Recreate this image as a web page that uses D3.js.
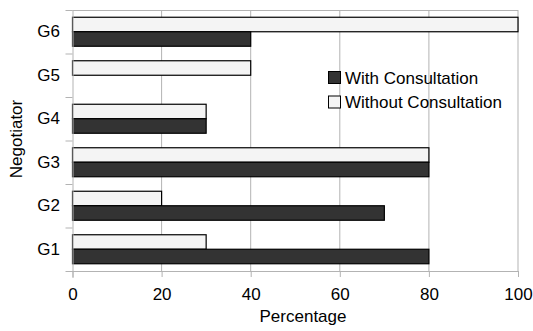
<!DOCTYPE html>
<html>
<head>
<meta charset="utf-8">
<script src="https://cdn.jsdelivr.net/npm/d3@7"></script>
<style>
  html, body { margin: 0; padding: 0; background: #fff; }
  svg { display: block; font-family: "Liberation Sans", Arial, sans-serif; }
</style>
</head>
<body>
<svg id="chart" width="533" height="331"></svg>
<script>
const categories = ["G1", "G2", "G3", "G4", "G5", "G6"];
const withConsultation = [80, 70, 80, 30, 0, 40];
const withoutConsultation = [30, 20, 80, 30, 40, 100];
const seriesNames = ["With Consultation", "Without Consultation"];
const xTicks = [0, 20, 40, 60, 80, 100];

(function () {
const FONT = "Liberation Sans, Arial, sans-serif";
const FS = 17;
const svg = d3.select("#chart");
const plotLeft = 72.5, plotTop = 10;
const plotRight = 518, plotBottom = 271;

const x = d3.scaleLinear().domain([0, 100]).range([plotLeft, plotRight]);
const y0 = d3.scaleBand().domain(categories.slice().reverse()).range([plotTop, plotBottom]).padding(0);
const y1 = d3.scaleBand().domain(["without", "with"]).range([0, y0.bandwidth()]).paddingInner(0).paddingOuter(0.5);

// gridlines
svg.append("g").selectAll("line").data(xTicks.filter(d => d > 0)).join("line")
  .attr("x1", d => x(d)).attr("x2", d => x(d))
  .attr("y1", plotTop).attr("y2", plotBottom)
  .attr("stroke", "#b3b3b3").attr("stroke-width", 1);
// top border
svg.append("line").attr("x1", plotLeft).attr("x2", plotRight)
  .attr("y1", plotTop + 0.5).attr("y2", plotTop + 0.5)
  .attr("stroke", "#b3b3b3");

const data = categories.map((c, i) => ({ c, with: withConsultation[i], without: withoutConsultation[i] }));

const groups = svg.append("g").selectAll("g").data(data).join("g")
  .attr("transform", d => `translate(0,${y0(d.c)})`);

groups.append("rect")
  .attr("x", x(0)).attr("y", y1("without"))
  .attr("width", d => x(d.without) - x(0)).attr("height", y1.bandwidth())
  .attr("fill", "#f4f4f4").attr("stroke", "#000").attr("stroke-width", 1.2);

groups.filter(d => d.with > 0).append("rect")
  .attr("x", x(0)).attr("y", y1("with"))
  .attr("width", d => x(d.with) - x(0)).attr("height", y1.bandwidth())
  .attr("fill", "#333333").attr("stroke", "#000").attr("stroke-width", 1.2);

// x axis
const xAxis = svg.append("g").attr("transform", `translate(0,${plotBottom})`)
  .call(d3.axisBottom(x).tickValues(xTicks).tickSize(6).tickPadding(11));
xAxis.select(".domain").attr("stroke", "#b3b3b3").attr("d", `M${plotLeft - 7},0.5H${plotRight}`);
xAxis.selectAll(".tick line").attr("stroke", "#b3b3b3");
xAxis.selectAll("text").attr("font-size", FS).attr("fill", "#000").attr("font-family", FONT);

// y axis
const yAxis = svg.append("g").attr("transform", `translate(${plotLeft},0)`)
  .call(d3.axisLeft(y0).tickSize(0).tickPadding(12.5));
yAxis.select(".domain").attr("stroke", "#b3b3b3").attr("d", `M0.5,${plotTop}V${plotBottom + 7}`);
yAxis.selectAll("text").attr("font-size", FS).attr("fill", "#000").attr("font-family", FONT);
// category boundary ticks
svg.append("g").selectAll("line").data(categories).join("line")
  .attr("x1", plotLeft - 7).attr("x2", plotLeft)
  .attr("y1", d => y0(d) + 0.5).attr("y2", d => y0(d) + 0.5)
  .attr("stroke", "#b3b3b3");

// axis titles
svg.append("text").attr("x", 303).attr("y", 322)
  .attr("text-anchor", "middle").attr("font-size", FS).attr("font-family", FONT).text("Percentage");
svg.append("text").attr("transform", `translate(22,139) rotate(-90)`)
  .attr("text-anchor", "middle").attr("font-size", FS).attr("font-family", FONT).text("Negotiator");

// legend
const legend = svg.append("g").attr("transform", "translate(328,71)");
const fills = ["#333333", "#f4f4f4"];
seriesNames.forEach((s, i) => {
  const g = legend.append("g").attr("transform", `translate(0,${i * 24.5})`);
  g.append("rect").attr("x", 0.5).attr("y", 0.5).attr("width", 12).attr("height", 12)
    .attr("fill", fills[i]).attr("stroke", "#000").attr("stroke-width", 1);
  g.append("text").attr("x", 17).attr("y", 12.5).attr("font-size", FS).attr("font-family", FONT).text(s);
});
})();
</script>
</body>
</html>
